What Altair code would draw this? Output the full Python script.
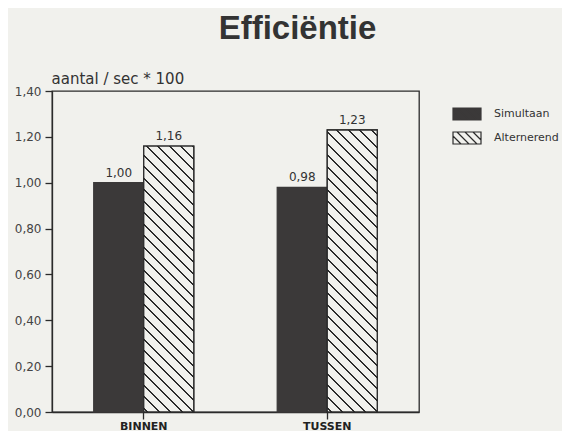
import altair as alt
import pandas as pd

# ---- data ----
categories = ["BINNEN", "TUSSEN"]
series = ["Simultaan", "Alternerend"]
simultaan = [1.00, 0.98]
alternerend = [1.16, 1.23]
y_ticks = [0.0, 0.2, 0.4, 0.6, 0.8, 1.0, 1.2, 1.4]
title_text = "Efficiëntie"
y_title = "aantal / sec * 100"

rows = []
for i, c in enumerate(categories):
    rows.append({"categorie": c, "serie": series[0], "waarde": simultaan[i]})
    rows.append({"categorie": c, "serie": series[1], "waarde": alternerend[i]})
df = pd.DataFrame(rows)

# ---- styling ----
PAPER = "#f1f1ed"
DARK = "#3b3939"
INK = "#2b2b2b"
W, H = 367, 321
Y_MAX = 1.4
PAD_OUTER = 0.835
BAR_W = (W / len(categories)) / (2 + 2 * PAD_OUTER)


def hatch_gradient(w, h, period=11.5, lw=2.3, phase=4.0):
    total = w + h
    k = total / (w * w + h * h)
    a, b = k * w, k * h
    stops = [alt.GradientStop(offset=0, color=PAPER)]
    s = phase
    while s < total:
        t0 = max(0.0, (s - lw / 2) / total)
        t1 = min(1.0, (s + lw / 2) / total)
        stops += [
            alt.GradientStop(offset=round(t0, 5), color=PAPER),
            alt.GradientStop(offset=round(t0, 5), color=INK),
            alt.GradientStop(offset=round(t1, 5), color=INK),
            alt.GradientStop(offset=round(t1, 5), color=PAPER),
        ]
        s += period
    stops.append(alt.GradientStop(offset=1, color=PAPER))
    return alt.LinearGradient(gradient="linear", stops=stops,
                              x1=0, y1=1, x2=round(a, 5), y2=round(1 - b, 5))


swatch_path = ("M-1,-0.4286H1V0.4286H-1Z "
               "M-1,-0.1429L-0.4286,0.4286 "
               "M-0.7143,-0.4286L0.1429,0.4286 "
               "M-0.1429,-0.4286L0.7143,0.4286 "
               "M0.4286,-0.4286L1,0.1429")

legend = alt.Legend(
    title=None, orient="none", legendX=400, legendY=8, padding=0,
    symbolType=swatch_path, symbolSize=784, symbolStrokeWidth=1.2,
    labelFont="DejaVu Sans", labelFontSize=11, labelColor="#333",
    labelOffset=12, rowPadding=0,
)

x_enc = alt.X("categorie:N", sort=categories,
              scale=alt.Scale(paddingInner=0, paddingOuter=0),
              axis=alt.Axis(title=None, labelAngle=0, labelFont="DejaVu Sans",
                            labelFontWeight="bold", labelFontSize=11,
                            labelColor="#222", labelPadding=10,
                            labelBaseline="alphabetic", tickSize=7,
                            tickColor=INK, tickWidth=1.3, domainColor=INK,
                            domainWidth=1.3))
xo_enc = alt.XOffset("serie:N", sort=series,
                     scale=alt.Scale(paddingOuter=PAD_OUTER, paddingInner=0))
y_enc = alt.Y("waarde:Q",
              scale=alt.Scale(domain=[0, Y_MAX], nice=False),
              axis=alt.Axis(values=y_ticks, title=y_title, titleAngle=0,
                            titleAlign="left", titleBaseline="alphabetic",
                            titleX=-1, titleY=-8, titleFont="DejaVu Sans",
                            titleFontSize=15, titleFontWeight="normal",
                            titleColor="#333",
                            labelExpr="replace(format(datum.value, '.2f'), '.', ',')",
                            labelFont="DejaVu Sans", labelFontSize=12,
                            labelColor="#444", labelPadding=4, tickSize=7,
                            tickColor=INK, tickWidth=1.3, domainColor=INK,
                            domainWidth=1.3, grid=False))

base = alt.Chart(df).encode(x=x_enc, xOffset=xo_enc, y=y_enc)

bars = base.mark_bar(strokeWidth=1.3).encode(
    fill=alt.Fill("serie:N", sort=series,
                  scale=alt.Scale(domain=series, range=[DARK, PAPER]),
                  legend=legend),
    stroke=alt.Stroke("serie:N", sort=series,
                      scale=alt.Scale(domain=series, range=[DARK, INK]),
                      legend=legend),
)

hatch_layers = []
for i, c in enumerate(categories):
    h = alternerend[i] * H / Y_MAX
    hatch_layers.append(
        base.transform_filter(
            (alt.datum.categorie == c) & (alt.datum.serie == series[1])
        ).mark_bar(fill=hatch_gradient(BAR_W, h), stroke=INK, strokeWidth=1.3)
    )

labels = base.transform_calculate(
    lbl="replace(format(datum.waarde, '.2f'), '.', ',')"
).mark_text(baseline="alphabetic", dy=-6, font="DejaVu Sans", fontSize=12,
            color="#333").encode(text="lbl:N")

chart = alt.layer(bars, *hatch_layers, labels).properties(
    width=W, height=H,
    title=alt.TitleParams(title_text, font="Liberation Sans", fontSize=33,
                          fontWeight="bold", color="#333", anchor="middle",
                          frame="group", dx=62, offset=25),
    autosize=alt.AutoSizeParams(type="none"),
    padding={"left": 44, "top": 83, "right": 143, "bottom": 19},
    background=PAPER,
).configure_view(stroke=INK, strokeWidth=1.3, fill=PAPER)

chart.save("out.html", embed_options={"renderer": "svg", "actions": False})
